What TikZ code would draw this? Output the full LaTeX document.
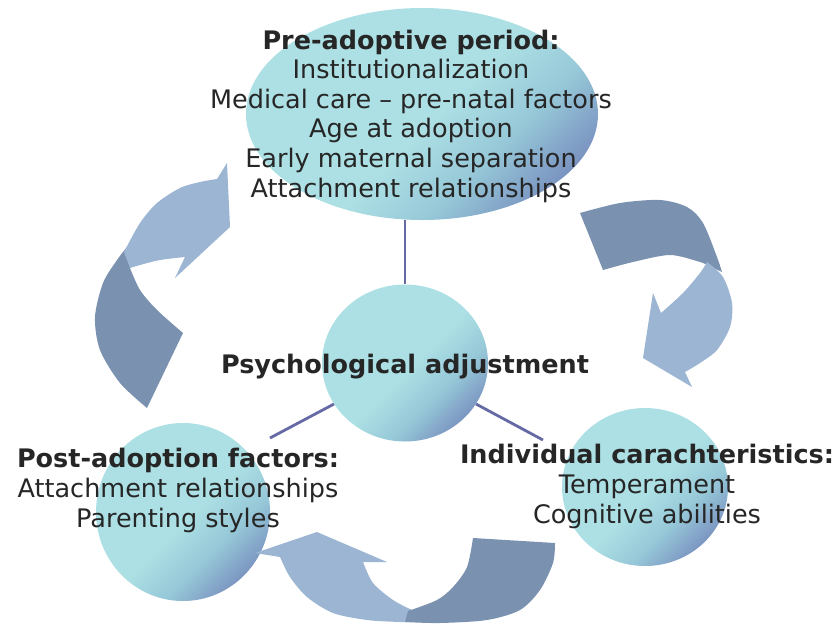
\documentclass[tikz,border=0pt]{standalone}
\usepackage{fontspec}
\setmainfont{DejaVu Sans}
\usetikzlibrary{shapes.geometric}
\definecolor{bubblelight}{RGB}{172,224,228}
\definecolor{bubblemid}{RGB}{150,200,216}
\definecolor{bubbledark}{RGB}{112,128,184}
\definecolor{ribbondark}{RGB}{122,146,176}
\definecolor{ribbonlight}{RGB}{156,181,211}
\definecolor{spokecolor}{RGB}{102,106,164}
\pgfdeclarehorizontalshading{bubbleshade}{100bp}
   {color(0bp)=(bubblelight);
    color(52bp)=(bubblelight);
    color(64bp)=(bubblemid);
    color(80bp)=(bubbledark);
    color(100bp)=(bubbledark)}
\tikzset{bubble/.style =
   {ellipse,
    shade,
    shading=bubbleshade,
    shading angle=-45,
    inner sep=0pt}}
\tikzset{factor/.style =
   {align=center,
    anchor=base,
    text=black!85,
    inner sep=0pt,
    font=\fontsize{25.5}{29.6}\selectfont}}
\tikzset{spoke/.style = {draw=spokecolor, line width=2.8pt}}
\tikzset{ribbon-dark/.style = {fill=ribbondark}}
\tikzset{ribbon-light/.style = {fill=ribbonlight}}

\begin{document}
\begin{tikzpicture}[x=1pt, y=-1pt]

    \useasboundingbox (0,0) rectangle (840,625);

    \coordinate (postlink) at (270,438);
    \coordinate (indlink) at (543,440);

    \node [bubble,
           minimum width=352pt,
           minimum height=212pt] (pre) at (422,114) {};

    \node [bubble,
           minimum width=166pt,
           minimum height=157pt] (mid) at (405,363) {};

    \node [bubble,
           minimum width=174pt,
           minimum height=178pt] (post) at (183,512) {};

    \node [bubble,
           minimum width=166pt,
           minimum height=158pt] (ind) at (645,487) {};

    \draw [spoke] (mid.north |- pre.south) -- (mid.north);
    \draw [spoke] (mid.210) -- (postlink);
    \draw [spoke] (mid.330) -- (indlink);

    % left ribbon, up towards the pre-adoptive period
    \fill [ribbon-dark]
      plot [smooth] coordinates {(147,408) (120,383) (100,350) (95,317) (103,283) (117,260) (127,247)}
      -- plot [smooth] coordinates {(130,268) (140,290) (157,310) (183,333)}
      -- cycle;
    \fill [ribbon-light]
      plot [smooth] coordinates {(124,252) (140,223) (157,203) (180,188) (200,182) (217,179)}
      -- (227,163) -- (230,227) -- (175,278) -- (185,257)
      -- plot [smooth] coordinates {(185,257) (160,260) (140,265) (130,268)}
      -- cycle;

    % right ribbon, down towards the individual characteristics
    \fill [ribbon-dark]
      plot [smooth] coordinates {(580,213) (620,203) (660,200) (687,207) (703,223) (717,257) (722,272)}
      -- plot [smooth] coordinates {(707,265) (700,262) (670,255) (633,262) (603,270)}
      -- cycle;
    \fill [ribbon-light]
      plot [smooth] coordinates {(707,262) (723,277) (732,303) (730,327) (717,350) (700,363) (685,372)}
      -- (692,387) -- (643,358) -- (653,293) -- (661,313)
      -- plot [smooth] coordinates {(661,313) (683,293) (700,273) (707,262)}
      -- cycle;

    % bottom ribbon, left towards the post-adoption factors
    \fill [ribbon-light]
      (255,553) -- (317,532) -- (387,562) -- (363,562)
      -- plot [smooth] coordinates {(363,562) (373,583) (393,600) (412,610)}
      -- (410,622)
      -- plot [smooth] coordinates {(410,622) (400,622) (367,620) (333,613) (307,597) (290,577) (280,557)}
      -- cycle;
    \fill [ribbon-dark]
      plot [smooth] coordinates {(555,543) (553,563) (540,590) (520,610) (487,620) (440,623) (405,622)}
      -- plot [smooth] coordinates {(408,611) (437,600) (453,587) (467,567) (473,538)}
      -- cycle;

    \node [factor] (pretext) at (411,197)
      {\textbf{Pre-adoptive period:}\\
       Institutionalization\\
       Medical care – pre-natal factors\\
       Age at adoption\\
       Early maternal separation\\
       Attachment relationships};

    \node [factor] (midtext) at (405,373) {\textbf{Psychological adjustment}};

    \node [factor] (posttext) at (178,527)
      {\textbf{Post-adoption factors:}\\
       Attachment relationships\\
       Parenting styles};

    \node [factor] (indtext) at (647,523)
      {\textbf{Individual carachteristics:}\\
       Temperament\\
       Cognitive abilities};

\end{tikzpicture}
\end{document}
